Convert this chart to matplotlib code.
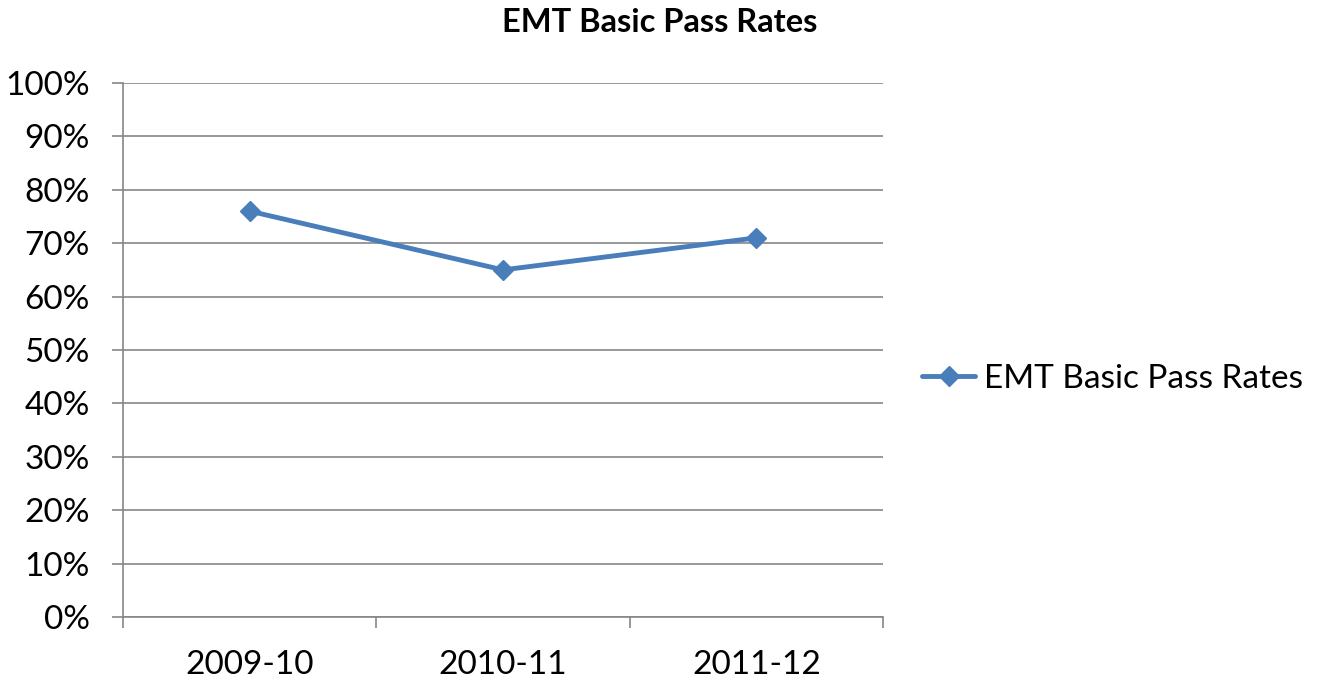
import matplotlib.pyplot as plt
from matplotlib.ticker import FixedLocator

plt.rcParams['font.family'] = ['Lato', 'DejaVu Sans']

# data
years = ['2009-10', '2010-11', '2011-12']
pass_rates = [76, 65, 71]
series_name = 'EMT Basic Pass Rates'

grid_col = '#868686'
line_col = '#4a7ebb'

fig = plt.figure(figsize=(13.2, 6.84), dpi=100)
ax = fig.add_axes([123/1320, 1 - 617/684, 760/1320, 534/684])

x = range(len(years))
ax.plot(x, pass_rates, color=line_col, lw=3.5, marker='D', ms=10,
        label=series_name, solid_capstyle='round')

ax.set_xlim(-0.5, len(years) - 0.5)
ax.set_ylim(0, 100)
ax.set_yticks(range(0, 101, 10))
ax.set_yticklabels([f'{v}%' for v in range(0, 101, 10)])
ax.set_xticks(list(x))
ax.set_xticklabels(years)
ax.xaxis.set_minor_locator(FixedLocator([i - 0.5 for i in range(len(years) + 1)]))

ax.tick_params(axis='x', which='major', length=0, pad=24, labelsize=24)
ax.tick_params(axis='x', which='minor', length=8, width=1.2, color=grid_col)
ax.tick_params(axis='y', length=8, width=1.2, color=grid_col, pad=16, labelsize=24)

ax.grid(axis='y', color=grid_col, lw=1.2)
ax.set_axisbelow(True)
for s in ['top', 'right']:
    ax.spines[s].set_visible(False)
for s in ['left', 'bottom']:
    ax.spines[s].set_color(grid_col)
    ax.spines[s].set_linewidth(1.2)

fig.text(0.5, 1 - 23/684, 'EMT Basic Pass Rates', ha='center', va='center',
         fontsize=23.5, fontweight='bold')

ax.legend(loc='center left', bbox_to_anchor=(922/1320, 1 - 379/684),
          bbox_transform=fig.transFigure, frameon=False,
          fontsize=24, handlelength=1.6, handletextpad=0.25,
          borderpad=0, borderaxespad=0)

fig.savefig('out.png', dpi=100)
